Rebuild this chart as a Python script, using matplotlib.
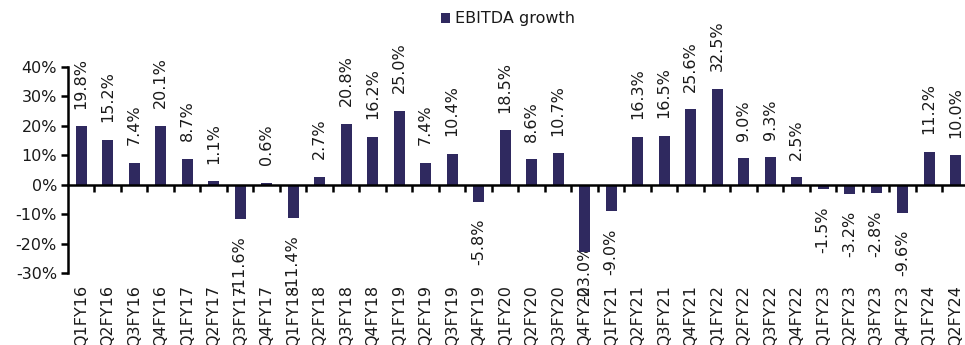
import matplotlib
matplotlib.use("Agg")
import matplotlib.pyplot as plt
import numpy as np

categories = ["Q1FY16", "Q2FY16", "Q3FY16", "Q4FY16", "Q1FY17", "Q2FY17", "Q3FY17", "Q4FY17",
              "Q1FY18", "Q2FY18", "Q3FY18", "Q4FY18", "Q1FY19", "Q2FY19", "Q3FY19", "Q4FY19",
              "Q1FY20", "Q2FY20", "Q3FY20", "Q4FY20", "Q1FY21", "Q2FY21", "Q3FY21", "Q4FY21",
              "Q1FY22", "Q2FY22", "Q3FY22", "Q4FY22", "Q1FY23", "Q2FY23", "Q3FY23", "Q4FY23",
              "Q1FY24", "Q2FY24"]
ebitda_growth = [19.8, 15.2, 7.4, 20.1, 8.7, 1.1, -11.6, 0.6,
                 -11.4, 2.7, 20.8, 16.2, 25.0, 7.4, 10.4, -5.8,
                 18.5, 8.6, 10.7, -23.0, -9.0, 16.3, 16.5, 25.6,
                 32.5, 9.0, 9.3, 2.5, -1.5, -3.2, -2.8, -9.6,
                 11.2, 10.0]
y_ticks = [-30, -20, -10, 0, 10, 20, 30, 40]

plt.rcParams['font.family'] = ['DejaVu Sans']
color = "#2F295F"
fs = 11.5
txt_color = "#1a1a1a"

fig = plt.figure(figsize=(9.65, 3.45), dpi=100)
ax = fig.add_axes([68/965, 1 - 273/345, 1 - 68/965 + 0.004, (273 - 67)/345])

x = np.arange(len(categories))
bars = ax.bar(x, ebitda_growth, width=0.42, color=color, label="EBITDA growth", zorder=3)

ax.set_xlim(-0.5, len(categories) - 0.5)
ax.set_ylim(-30, 40)
ax.set_yticks(y_ticks)
ax.set_yticklabels([f"{v}%" for v in y_ticks], fontsize=fs, color=txt_color)
ax.tick_params(axis='y', direction='out', length=5, width=1.8, pad=3)

for s in ['top', 'right']:
    ax.spines[s].set_visible(False)
ax.spines['left'].set_linewidth(1.8)
ax.spines['bottom'].set_position(('data', 0))
ax.spines['bottom'].set_linewidth(1.8)
ax.spines['bottom'].set_zorder(4)
ax.set_xticks(np.arange(0.5, len(categories) - 0.5, 1.0))
ax.set_xticklabels([])
ax.tick_params(axis='x', direction='out', length=5, width=1.8)

for xi, lab in zip(x, categories):
    ax.text(xi, -0.058, lab, transform=ax.get_xaxis_transform(), rotation=90,
            ha='center', va='top', fontsize=fs, color=txt_color)

for xi, v in zip(x, ebitda_growth):
    if v >= 0:
        ax.text(xi, v + 6.0, f"{v:.1f}%", rotation=90, ha='center', va='bottom',
                fontsize=fs, color=txt_color, zorder=1)
    else:
        ax.text(xi, max(v - 5.8, -20.5), f"{v:.1f}%", rotation=90, ha='center', va='top',
                fontsize=fs, color=txt_color, zorder=1, clip_on=False)

leg = fig.legend(handles=[bars], labels=["EBITDA growth"], loc='center',
                 bbox_to_anchor=(508/965, 1 - 19/345), frameon=False, fontsize=fs,
                 handlelength=0.6, handleheight=0.6, handletextpad=0.3, labelcolor=txt_color)

fig.savefig("out.png", dpi=100)
